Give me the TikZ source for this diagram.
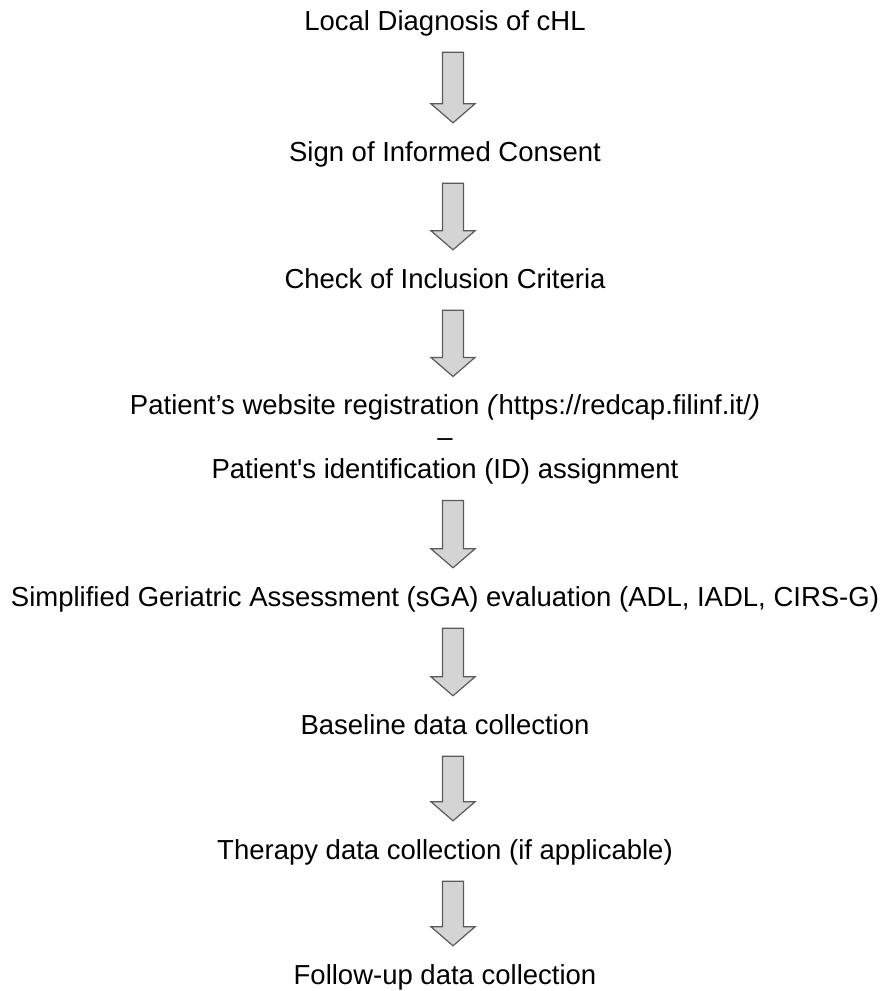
\documentclass[tikz,border=0pt]{standalone}
\usepackage{fontspec}
\setmainfont{Liberation Sans}
\usetikzlibrary{calc}
\usetikzlibrary{positioning}
\definecolor{arrowfill}{RGB}{212,212,212}
\definecolor{arrowline}{RGB}{90,90,90}

\begin{document}
\begin{tikzpicture}[x=1pt, y=-1pt,
    stagetext/.style={font=\fontsize{27.5}{32}\selectfont, inner sep=0pt, align=center},
    stage/.style={stagetext, text height=20pt, text depth=6pt},
    fatarrow/.style={fill=arrowfill, draw=arrowline, line width=1.2pt, line join=miter}]
        \useasboundingbox (0,0) rectangle (885,991);
        \node [stage] (diag) at (445,23) {Local Diagnosis of cHL};
        \node [stage, below of=diag, node distance=131pt] (consent) {Sign of Informed Consent};
        \node [stage, below of=consent, node distance=127pt] (check) {Check of Inclusion Criteria};
        \node [stagetext, below of=check, node distance=158.5pt] (reg) {Patient’s website registration \textit{(}https://redcap.filinf.it/\textit{)}\\ –\\ Patient\textquotesingle s identification (ID) assignment};
        \node [stage, below of=reg, node distance=159.5pt] (sga) {Simplified Geriatric Assessment (sGA) evaluation (ADL, IADL, CIRS-G)};
        \node [stage, below of=sga, node distance=128pt] (base) {Baseline data collection};
        \node [stage, below of=base, node distance=125pt] (therapy) {Therapy data collection (if applicable)};
        \node [stage, below of=therapy, node distance=125pt] (follow) {Follow-up data collection};
        \foreach \a/\b in {diag/consent, consent/check, check/reg, reg/sga, sga/base, base/therapy, therapy/follow}
            \draw [fatarrow] let \p1=(\a.south), \p2=(\b.north) in
                (\x1-2.5pt,\y1-16pt) -- (\x1+18.5pt,\y1-16pt) -- (\x1+18.5pt,\y2+37pt) -- (\x1+30pt,\y2+37pt)
                -- (\x1+8pt,\y2+18pt) -- (\x1-14pt,\y2+37pt) -- (\x1-2.5pt,\y2+37pt) -- cycle;
    \end{tikzpicture}
\end{document}
